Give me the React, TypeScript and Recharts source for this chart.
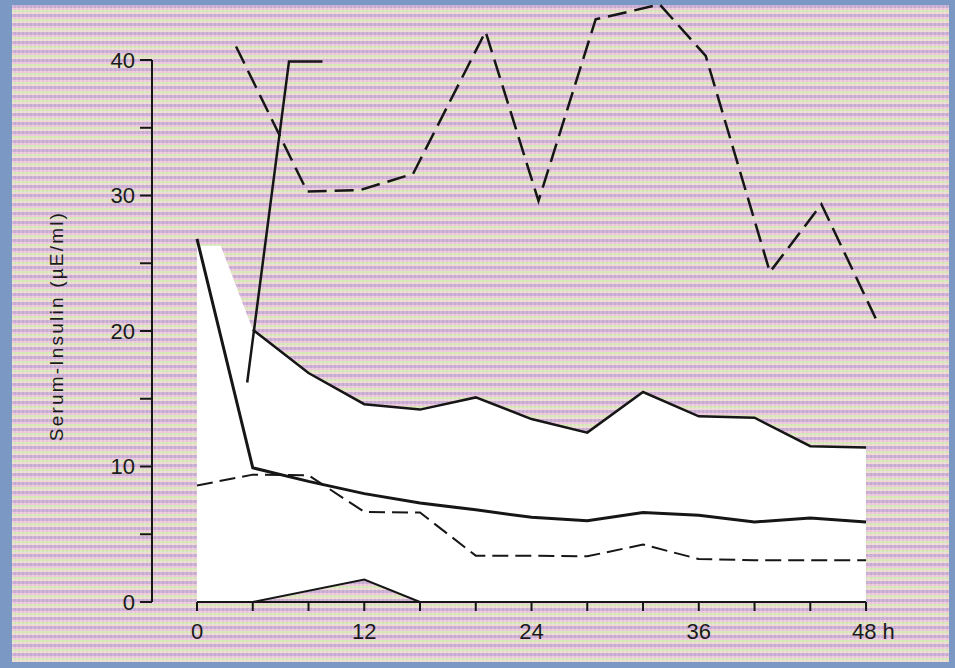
import React from "react";
import {
  Area,
  ComposedChart,
  Line,
  XAxis,
  YAxis,
} from "recharts";

// hours
const bandHours = [0, 1.7, 4, 8, 12, 16, 20, 24, 28, 32, 36, 40, 44, 48];
const bandLow = [0, 0, 0, 0.8, 1.65, 0, 0, 0, 0, 0, 0, 0, 0, 0];
const bandHigh = [26.3, 26.3, 20.1, 16.9, 14.6, 14.2, 15.1, 13.5, 12.5, 15.5, 13.7, 13.6, 11.5, 11.4];

const gridHours = [0, 4, 8, 12, 16, 20, 24, 28, 32, 36, 40, 44, 48];
const meanValues = [26.8, 9.9, 8.9, 8.0, 7.3, 6.8, 6.25, 6.0, 6.6, 6.4, 5.9, 6.2, 5.9];
const lowerDashed = [8.6, 9.4, 9.35, 6.65, 6.6, 3.42, 3.42, 3.37, 4.24, 3.17, 3.08, 3.08, 3.08];

const topLineHours = [4, 8, 12, 16, 20, 24, 28, 32, 36, 40, 44, 48];

const upperDashedHours = [2.8, 7.9, 11.7, 15.5, 20.7, 24.5, 28.6, 33.2, 36.5, 41.1, 44.8, 48.8];
const upperDashedValues = [41.0, 30.3, 30.4, 31.6, 42.1, 29.6, 43.0, 44.1, 40.3, 24.35, 29.35, 20.7];

const spikeHours = [3.6, 6.6, 9.0];
const spikeValues = [16.2, 39.9, 39.9];

const triangleHours = [4, 12, 16];
const triangleValues = [0, 1.65, 0];

const xTicks = [0, 4, 8, 12, 16, 20, 24, 28, 32, 36, 40, 44, 48];
const yTicks = [0, 5, 10, 15, 20, 25, 30, 35, 40];

const zip = (xs: number[], ys: number[]) => xs.map((t, i) => ({ t, v: ys[i] }));

const bandRows = bandHours.map((t, i) => ({ t, band: [bandLow[i], bandHigh[i]] }));

const FONT = "'Liberation Sans', Arial, Helvetica, sans-serif";
const INK = "#161616";

// plot spans a bit beyond the drawn axes, like the printed figure
const X_DOMAIN = [-3.23, 50.15];
const Y_DOMAIN = [0, 44.43];
const X_GAP = 45; // px from plot left to hour 0
const X_LEN = 669; // px from hour 0 to hour 48
const Y_GAP = 60; // px from plot top to 40
const Y_LEN = 542;

const XTick = (props: any) => {
  const { x, y, payload } = props;
  const v = payload.value as number;
  if (v % 12 !== 0) return null;
  const last = v === 48;
  return (
    <text
      x={last ? x - 14 : x}
      y={y}
      dy="0.71em"
      textAnchor={last ? "start" : "middle"}
      fontSize={22}
      fontFamily={FONT}
      fill="#1a1a1a"
    >
      {last ? "48 h" : String(v)}
    </text>
  );
};

const YLabel = () => (
  <text
    transform="translate(63, 326) rotate(-90)"
    textAnchor="middle"
    fontSize={19}
    fontFamily={FONT}
    letterSpacing={2.2}
    fill="#1a1a1a"
  >
    Serum-Insulin (µE/ml)
  </text>
);

export default function App() {
  return (
    <div
      style={{
        position: "absolute",
        left: 0,
        top: 0,
        width: 955,
        height: 668,
        background: "#7b97c4",
      }}
    >
      <div
        style={{
          position: "absolute",
          left: 12,
          top: 5,
          right: 6,
          bottom: 6,
          background:
            "repeating-linear-gradient(90deg, rgba(255,255,255,0.16) 0px, rgba(255,255,255,0.16) 2px, rgba(0,0,0,0) 2px, rgba(0,0,0,0) 4px), repeating-linear-gradient(180deg, #c6aacf 0px, #c6aacf 3px, #ebc5da 3px, #ebc5da 5px, #d3e5b3 5px, #d3e5b3 7px, #ebd9d2 7px, #ebd9d2 9px)",
        }}
      />
      <div style={{ position: "absolute", left: 0, top: 0 }}>
        <ComposedChart
          width={955}
          height={668}
          data={bandRows}
          margin={{ top: 0, right: 59, bottom: 0, left: 0 }}
        >
          <XAxis
            dataKey="t"
            type="number"
            domain={X_DOMAIN}
            ticks={xTicks}
            interval={0}
            height={66}
            tickSize={9}
            tickMargin={12}
            axisLine={{ stroke: INK, strokeWidth: 2, strokeDasharray: `0 ${X_GAP} ${X_LEN} 2000` }}
            tickLine={{ stroke: INK, strokeWidth: 2 }}
            tick={<XTick />}
          />
          <YAxis
            type="number"
            domain={Y_DOMAIN}
            ticks={yTicks}
            interval={0}
            width={152}
            tickSize={12}
            tickMargin={5}
            axisLine={{ stroke: INK, strokeWidth: 2, strokeDasharray: `0 ${Y_GAP} ${Y_LEN} 2000` }}
            tickLine={{ stroke: INK, strokeWidth: 2 }}
            tick={{ fontSize: 22, fontFamily: FONT, fill: "#1a1a1a" }}
            tickFormatter={(v: number) => (v % 10 === 0 ? String(v) : "")}
            label={<YLabel />}
          />
          <Area
            dataKey="band"
            type="linear"
            fill="#ffffff"
            fillOpacity={1}
            stroke="none"
            dot={false}
            activeDot={false}
            isAnimationActive={false}
          />
          <Line
            data={zip(topLineHours, bandHigh.slice(2))}
            dataKey="v"
            type="linear"
            stroke={INK}
            strokeWidth={2.5}
            dot={false}
            activeDot={false}
            isAnimationActive={false}
          />
          <Line
            data={zip(triangleHours, triangleValues)}
            dataKey="v"
            type="linear"
            stroke={INK}
            strokeWidth={2}
            dot={false}
            activeDot={false}
            isAnimationActive={false}
          />
          <Line
            data={zip(gridHours, lowerDashed)}
            dataKey="v"
            type="linear"
            stroke={INK}
            strokeWidth={2}
            strokeDasharray="16 7"
            dot={false}
            activeDot={false}
            isAnimationActive={false}
          />
          <Line
            data={zip(gridHours, meanValues)}
            dataKey="v"
            type="linear"
            stroke={INK}
            strokeWidth={3}
            dot={false}
            activeDot={false}
            isAnimationActive={false}
          />
          <Line
            data={zip(spikeHours, spikeValues)}
            dataKey="v"
            type="linear"
            stroke={INK}
            strokeWidth={2.5}
            dot={false}
            activeDot={false}
            isAnimationActive={false}
          />
          <Line
            data={zip(upperDashedHours, upperDashedValues)}
            dataKey="v"
            type="linear"
            stroke={INK}
            strokeWidth={2.5}
            strokeDasharray="19 8"
            dot={false}
            activeDot={false}
            isAnimationActive={false}
          />
        </ComposedChart>
      </div>
    </div>
  );
}
